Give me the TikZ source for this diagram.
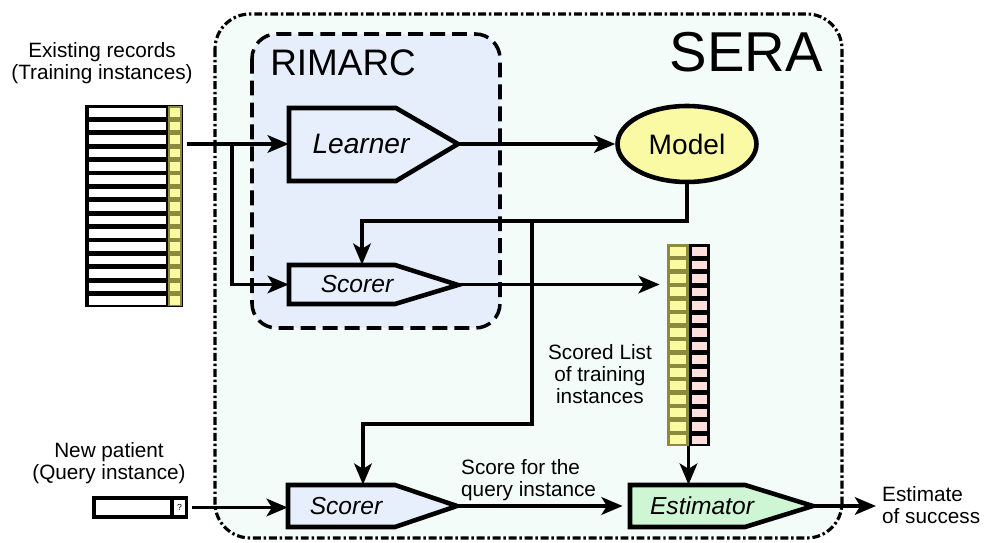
\documentclass[tikz,border=0pt]{standalone}
\usepackage{fontspec}
\setmainfont{Liberation Sans}
\usepackage{xcolor}
\usetikzlibrary{arrows.meta, positioning, shapes.geometric}

\definecolor{seraback}{HTML}{F3FCF9}
\definecolor{rimback}{HTML}{E6EEFB}
\definecolor{stagefill}{HTML}{E8EFFC}
\definecolor{modelfill}{HTML}{FAFAA5}
\definecolor{estfill}{HTML}{CEF6D4}
\definecolor{cellyellow}{HTML}{FAFAA0}
\definecolor{cellolive}{HTML}{8C8A3C}
\definecolor{cellpink}{HTML}{FCDEDB}

\tikzset{
  flow/.style={line width=2pt, -{Stealth[length=12pt, width=10pt, inset=3pt]}},
  stageline/.style={line width=2.6pt, line join=miter},
  stagetext/.style={inner sep=0pt, font=\fontsize{14}{16}\selectfont\itshape},
  caption/.style={align=center, font=\fontsize{11.8}{12.5}\selectfont},
}

\begin{document}
\begin{tikzpicture}[x=0.02cm, y=-0.02cm]
\useasboundingbox (0,0) rectangle (985,543);

% frames
\draw[line width=1.8pt, dash pattern=on 4.5pt off 1.6pt on 1.4pt off 1.6pt, rounded corners=20, fill=seraback] (215,14) rectangle (842,538);
\draw[line width=2pt, dash pattern=on 8.5pt off 4pt, rounded corners=14, fill=rimback] (252,34) rectangle (500,328);
\node[anchor=base east, inner sep=0pt, font=\fontsize{32}{36}\selectfont] (sera) at (823,72) {SERA};
\node[anchor=base west, inner sep=0pt, font=\fontsize{21}{24}\selectfont] (rimarc) at (270,76) {RIMARC};

% stages
\draw[stageline, fill=stagefill] (289,108) -- (396,108) -- (458,144) -- (396,181) -- (289,181) -- cycle;
\node[stagetext, font=\fontsize{16}{18}\selectfont\itshape, minimum width=3.38cm, minimum height=1.46cm] (learner) at (373.5,144) {Learner\kern0.5cm};
\draw[stageline, fill=stagefill] (289,265) -- (395,265) -- (458,285) -- (395,304) -- (289,304) -- cycle;
\node[stagetext, minimum width=3.38cm, minimum height=0.78cm] (scorerA) at (373.5,284.5) {Scorer\kern0.66cm};
\draw[stageline, fill=stagefill] (288,485) -- (395,485) -- (457,506) -- (395,527) -- (288,527) -- cycle;
\node[stagetext, minimum width=3.38cm, minimum height=0.84cm] (scorerB) at (372.5,506) {Scorer\kern1.06cm};
\draw[stageline, fill=estfill] (630,485) -- (745,485) -- (813,506) -- (745,527) -- (630,527) -- cycle;
\node[stagetext, minimum width=3.66cm, minimum height=0.84cm] (estimator) at (721.5,506) {Estimator\kern0.78cm};
\node[ellipse, draw, line width=2.6pt, fill=modelfill, minimum width=2.78cm, minimum height=1.52cm, font=\fontsize{16}{18}\selectfont] (model) at (687,144) {Model};

% training records
\node[minimum width=1.96cm, minimum height=4.04cm, inner sep=0pt] (records) at (134,206) {};
\fill (85,105) rectangle (183,307);
\fill[cellolive] (168,106) rectangle (182,306);
\foreach \i in {0,...,14} {
  \fill[white] (89,{108.5+13.4*\i}) rectangle (166,{117+13.4*\i});
  \fill[cellyellow] (170,{108.5+13.4*\i}) rectangle (180,{117+13.4*\i});
}
\node[caption] (records-label) at (102,63) {Existing records\\(Training instances)};

% query record
\node[minimum width=1.92cm, minimum height=0.46cm, inner sep=0pt] (query) at (140,507.5) {};
\fill (92,496) rectangle (188,519);
\fill[white] (96,500) rectangle (170,515);
\fill[white] (174,500) rectangle (185,515);
\node[inner sep=0pt, font=\fontsize{5}{6}\selectfont] (unknown) at (179.5,507.5) {?};
\node[caption] (query-label) at (109,463) {New patient\\(Query instance)};

% scored list
\node[minimum width=0.86cm, minimum height=4.04cm, inner sep=0pt] (list) at (688.5,345) {};
\fill[cellolive] (667,244) rectangle (689,446);
\fill (689,244) rectangle (710,446);
\foreach \i in {0,...,14} {
  \fill[cellyellow] (670,{247+13.45*\i}) rectangle (686,{256+13.45*\i});
  \fill[cellpink] (692,{247.5+13.45*\i}) rectangle (707,{256+13.45*\i});
}
\node[caption, anchor=east] (list-label) at (658,374) {Scored List\\of training\\instances};
\node[caption, align=left, anchor=west] (score-label) at (455,480) {Score for the\\query instance};
\node[caption, align=left, anchor=west] (outcome) at (876,505) {Estimate\\of success};

% connectors
\coordinate (fork) at (232,144);
\coordinate (drop) at (362,221);
\coordinate (tap) at (532,221);
\coordinate (bend) at (363,424);
\draw[flow, shorten <=2pt] (records.east |- learner.west) -- (learner.west);
\draw[flow] (fork) |- (scorerA.west);
\draw[flow] (learner.east) -- (model.west);
\draw[flow] (model.south) |- (drop) -- (drop |- scorerA.north);
\draw[flow] (tap) |- (bend) -- (bend |- scorerB.north);
\draw[flow, shorten >=4pt] (scorerA.east) -- (scorerA.east -| list.west);
\draw[flow] (list.south) -- (list.south |- estimator.north);
\draw[flow, shorten <=2pt] (query.east) -- (query.east -| scorerB.west);
\draw[flow, shorten >=4pt] (scorerB.east) -- (scorerB.east -| estimator.west);
\draw[flow] (estimator.east) -- (estimator.east -| outcome.west);
\end{tikzpicture}
\end{document}
